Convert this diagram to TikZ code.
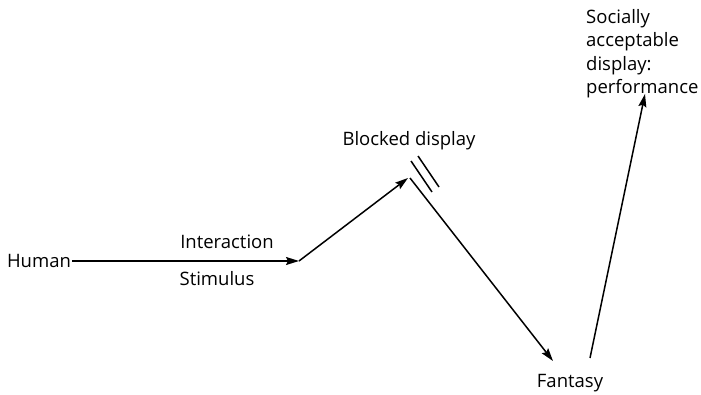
\documentclass[tikz,border=0pt]{standalone}
\usepackage{fontspec}
\setmainfont{Open Sans}
\usetikzlibrary{arrows.meta}
\begin{document}
\begin{tikzpicture}[x=1pt,y=-1pt,
  lbl/.style={font=\fontsize{18.5}{23.5}\selectfont, inner sep=1pt},
  conn/.style={line width=1.5pt, -{Stealth[length=13pt,width=8pt,inset=2pt]}},
  plain/.style={line width=1.5pt}]
\useasboundingbox (0,0) rectangle (701,395);
\node[lbl] (human) at (39,261) {Human};
\node[lbl] (inter) at (227,242) {Interaction};
\node[lbl] (stim) at (217,279) {Stimulus};
\node[lbl] (blocked) at (409,141) {Blocked display};
\node[lbl] (fantasy) at (570,383) {Fantasy};
\node[lbl, align=left, anchor=north west] (social) at (585,8) {Socially\\acceptable\\display:\\performance};
\coordinate (a) at (299,261);
\coordinate (b) at (408,178);
\coordinate (c) at (410,178);
\coordinate (d) at (553,361);
\coordinate (e) at (590,358);
\coordinate (f) at (645,94);
\coordinate (m1s) at (411,161);
\coordinate (m1e) at (432,192);
\coordinate (m2s) at (418,156);
\coordinate (m2e) at (439,187);
\draw[conn] (human.east) -- (a);
\draw[conn] (a) -- (b);
\draw[conn] (c) -- (d);
\draw[conn] (e) -- (f);
\draw[plain] (m1s) -- (m1e);
\draw[plain] (m2s) -- (m2e);
\end{tikzpicture}
\end{document}
